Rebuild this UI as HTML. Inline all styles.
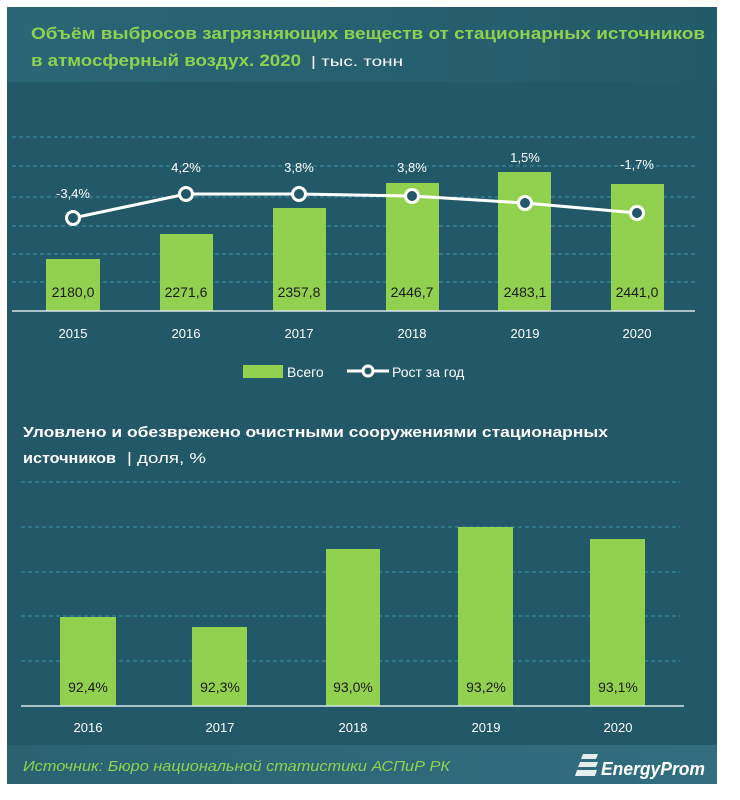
<!DOCTYPE html>
<html><head><meta charset="utf-8"><style>
html,body{margin:0;padding:0;background:#fff;}
svg{display:block;font-family:"Liberation Sans",sans-serif;}
</style></head><body>
<svg width="740" height="800" viewBox="0 0 740 800">
<defs>
<linearGradient id="hd" x1="0" y1="0" x2="1" y2="0"><stop offset="0" stop-color="#2b6676"/><stop offset="1" stop-color="#235a6a"/></linearGradient>
<linearGradient id="ft" x1="0" y1="0" x2="1" y2="0"><stop offset="0" stop-color="#2a6272"/><stop offset="1" stop-color="#316e80"/></linearGradient>
</defs>
<rect x="7" y="7" width="710" height="777" fill="#225867"/>
<rect x="7" y="7" width="710" height="75" fill="url(#hd)"/>
<rect x="7" y="745" width="710" height="39" fill="url(#ft)"/>
<text x="31" y="39" font-size="17" font-weight="bold" fill="#8fd14f" textLength="674" lengthAdjust="spacingAndGlyphs">Объём выбросов загрязняющих веществ от стационарных источников</text>
<text x="31" y="66" font-size="17" font-weight="bold" fill="#8fd14f" textLength="270" lengthAdjust="spacingAndGlyphs">в атмосферный воздух. 2020</text>
<text x="311" y="66" font-size="14" fill="#fff" textLength="92" lengthAdjust="spacingAndGlyphs">| тыс. тонн</text>
<g stroke="#3a93ad" stroke-width="1" stroke-dasharray="4,3">
<line x1="12" y1="137" x2="695" y2="137"/><line x1="12" y1="166" x2="695" y2="166"/><line x1="12" y1="197" x2="695" y2="197"/><line x1="12" y1="226" x2="695" y2="226"/><line x1="12" y1="254" x2="695" y2="254"/><line x1="12" y1="282" x2="695" y2="282"/>
</g>
<g fill="#92d050">
<rect x="46" y="259" width="54" height="52"/><rect x="160" y="234" width="53" height="77"/><rect x="273" y="208" width="53" height="103"/><rect x="386" y="183" width="53" height="128"/><rect x="498" y="172" width="53" height="139"/><rect x="611" y="184" width="53" height="127"/>
</g>
<line x1="12" y1="311" x2="695" y2="311" stroke="#d8e4e8" stroke-width="1.5"/>
<g font-size="14" fill="#1a1a1a" text-anchor="middle">
<text x="73" y="297">2180,0</text><text x="186" y="297">2271,6</text><text x="299" y="297">2357,8</text><text x="412" y="297">2446,7</text><text x="525" y="297">2483,1</text><text x="637" y="297">2441,0</text>
</g>
<polyline points="73,218 186,194 299,194 412,196 525,203 637,213" fill="none" stroke="#fff" stroke-width="3"/>
<g fill="#225867" stroke="#fff" stroke-width="3">
<circle cx="73" cy="218" r="6.5"/><circle cx="186" cy="194" r="6.5"/><circle cx="299" cy="194" r="6.5"/><circle cx="412" cy="196" r="6.5"/><circle cx="525" cy="203" r="6.5"/><circle cx="637" cy="213" r="6.5"/>
</g>
<g font-size="13" fill="#fff" text-anchor="middle">
<text x="73" y="198">-3,4%</text><text x="186" y="172">4,2%</text><text x="299" y="172">3,8%</text><text x="412" y="172">3,8%</text><text x="525" y="162">1,5%</text><text x="637" y="169">-1,7%</text>
<text x="73" y="338">2015</text><text x="186" y="338">2016</text><text x="299" y="338">2017</text><text x="412" y="338">2018</text><text x="525" y="338">2019</text><text x="637" y="338">2020</text>
</g>
<rect x="243" y="365" width="40" height="13" fill="#92d050"/>
<text x="287" y="377" font-size="14" fill="#fff">Всего</text>
<line x1="347" y1="371" x2="389" y2="371" stroke="#fff" stroke-width="3"/>
<circle cx="368" cy="371" r="5" fill="#225867" stroke="#fff" stroke-width="3"/>
<text x="392" y="377" font-size="14" fill="#fff">Рост за год</text>
<text x="23" y="437" font-size="15" font-weight="bold" fill="#fff" textLength="585" lengthAdjust="spacingAndGlyphs">Уловлено и обезврежено очистными  сооружениями  стационарных</text>
<text x="23" y="463" font-size="15" font-weight="bold" fill="#fff" textLength="93" lengthAdjust="spacingAndGlyphs">источников</text>
<text x="127" y="463" font-size="15" fill="#fff" textLength="79" lengthAdjust="spacingAndGlyphs">| доля, %</text>
<g stroke="#3a93ad" stroke-width="1" stroke-dasharray="4,3">
<line x1="21" y1="482" x2="680" y2="482"/><line x1="21" y1="527" x2="680" y2="527"/><line x1="21" y1="572" x2="680" y2="572"/><line x1="21" y1="616" x2="680" y2="616"/><line x1="21" y1="661" x2="680" y2="661"/>
</g>
<g fill="#92d050">
<rect x="60" y="617" width="56" height="89"/><rect x="192" y="627" width="55" height="79"/><rect x="326" y="549" width="54" height="157"/><rect x="458" y="527" width="55" height="179"/><rect x="590" y="539" width="55" height="167"/>
</g>
<line x1="21" y1="706" x2="684" y2="706" stroke="#d8e4e8" stroke-width="1.5"/>
<g font-size="14" fill="#1a1a1a" text-anchor="middle">
<text x="88" y="692">92,4%</text><text x="220" y="692">92,3%</text><text x="353" y="692">93,0%</text><text x="486" y="692">93,2%</text><text x="618" y="692">93,1%</text>
</g>
<g font-size="13" fill="#fff" text-anchor="middle">
<text x="88" y="732">2016</text><text x="220" y="732">2017</text><text x="353" y="732">2018</text><text x="486" y="732">2019</text><text x="618" y="732">2020</text>
</g>
<text x="23" y="771" font-size="15" font-style="italic" fill="#8fd14f" textLength="427" lengthAdjust="spacingAndGlyphs">Источник: Бюро национальной  статистики АСПиР РК</text>
<g fill="#e8eef0">
<polygon points="583,754 598,754 596,759 581,759"/><polygon points="580,762 598,762 596,767 578,767"/><polygon points="577,770 597,770 595,776 575,776"/>
</g>
<text x="601" y="775" font-size="18" font-style="italic" font-weight="bold" fill="#fff" textLength="104" lengthAdjust="spacingAndGlyphs">EnergyProm</text>
</svg>
</body></html>
